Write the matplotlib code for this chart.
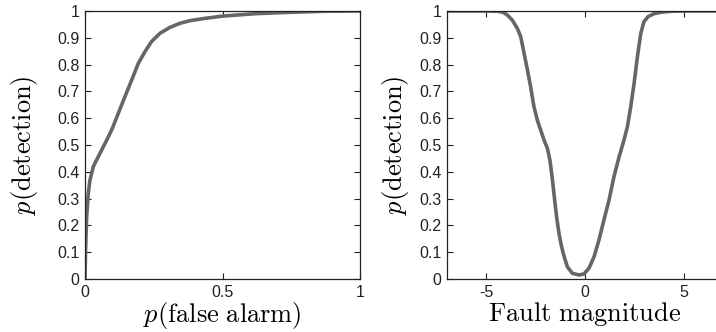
import matplotlib
matplotlib.use('Agg')
import matplotlib.pyplot as plt

# ROC curve: false alarm rate vs detection rate
pfa = [0.0, 0.001, 0.002, 0.006, 0.012, 0.018, 0.030, 0.048, 0.073, 0.097,
       0.121, 0.145, 0.170, 0.194, 0.218, 0.242, 0.273, 0.309, 0.345, 0.382,
       0.433, 0.5, 0.62, 0.74, 0.87, 1.0]
pd_roc = [0.0, 0.05, 0.108, 0.232, 0.32, 0.369, 0.419, 0.456, 0.506, 0.556,
          0.618, 0.68, 0.743, 0.805, 0.848, 0.886, 0.917, 0.939, 0.954, 0.964,
          0.972, 0.981, 0.99, 0.995, 0.999, 1.0]

# detection probability vs fault magnitude
fault = [-7.0, -5.0, -4.4, -4.15, -3.94, -3.69, -3.43, -3.26, -3.09, -2.92,
         -2.76, -2.59, -2.42, -2.25, -2.08, -1.91, -1.78, -1.65, -1.54, -1.44,
         -1.32, -1.2, -1.1, -1.0, -0.89, -0.64, -0.30, -0.05, 0.20, 0.46,
         0.71, 0.96, 1.22, 1.47, 1.73, 1.98, 2.15, 2.32, 2.49, 2.66,
         2.83, 2.99, 3.20, 3.5, 3.9, 4.4, 5.0, 7.0]
pd_fault = [1.0, 1.0, 0.999, 0.995, 0.985, 0.966, 0.935, 0.904, 0.842, 0.78,
            0.718, 0.643, 0.593, 0.556, 0.519, 0.488, 0.444, 0.369, 0.295, 0.232,
            0.17, 0.125, 0.095, 0.07, 0.045, 0.021, 0.015, 0.019, 0.04, 0.083,
            0.146, 0.22, 0.295, 0.382, 0.456, 0.519, 0.568, 0.643, 0.73, 0.83,
            0.917, 0.96, 0.979, 0.99, 0.996, 0.999, 1.0, 1.0]

plt.rcParams['mathtext.fontset'] = 'cm'
plt.rcParams['font.family'] = 'Liberation Sans'
plt.rcParams['axes.unicode_minus'] = False

W, H = 716.0, 332.0
fig = plt.figure(figsize=(W / 100, H / 100), dpi=100)
ax1 = fig.add_axes([85 / W, 53 / H, 275 / W, 268 / H])
ax2 = fig.add_axes([447 / W, 53 / H, 276 / W, 268 / H])

lc = '#666666'
ax1.plot(pfa, pd_roc, color=lc, lw=2.6, solid_joinstyle='round', solid_capstyle='round')
ax2.plot(fault, pd_fault, color=lc, lw=2.6, solid_joinstyle='round', solid_capstyle='round')

ax1.set_xlim(0, 1)
ax1.set_xticks([0, 0.5, 1])
ax1.set_xticklabels(['0', '0.5', '1'])
ax2.set_xlim(-7, 7)
ax2.set_xticks([-5, 0, 5])

for ax in (ax1, ax2):
    ax.set_ylim(0, 1)
    ax.set_yticks([i / 10 for i in range(11)])
    ax.set_yticklabels(['0'] + ['0.%d' % i for i in range(1, 10)] + ['1'])
    ax.tick_params(direction='in', top=True, right=True, length=4, width=0.8,
                   labelsize=11.5, colors='#222222', pad=4)
    for s in ax.spines.values():
        s.set_linewidth(0.9)
        s.set_color('#222222')

ax1.set_ylabel(r'$p(\mathrm{detection})$', fontsize=19, labelpad=12)
ax2.set_ylabel(r'$p(\mathrm{detection})$', fontsize=19, labelpad=6)
ax1.set_xlabel(r'$p(\mathrm{false\ alarm})$', fontsize=19, labelpad=0)
ax2.set_xlabel(r'$\mathrm{Fault\ magnitude}$', fontsize=19, labelpad=0)

fig.savefig('out.png', dpi=100)
